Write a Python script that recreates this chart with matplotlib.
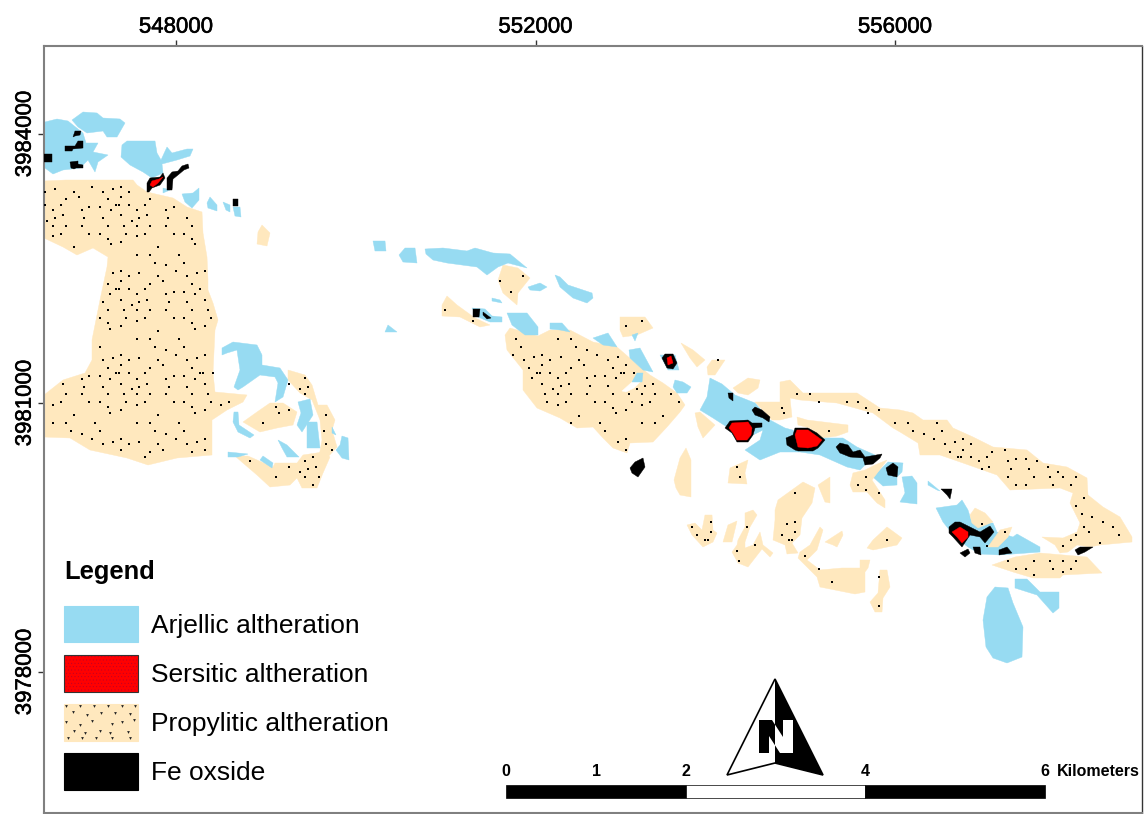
import matplotlib
matplotlib.use('Agg')
import matplotlib.pyplot as plt
import matplotlib.patheffects as pe
from matplotlib.patches import Rectangle

plt.rcParams['font.family'] = ['Liberation Sans', 'DejaVu Sans']
plt.rcParams['hatch.linewidth'] = 0.25

# Georeference of the digitised sheet: vertices below are (col, row) on the scan
M_PER_COL = 4000 / 359.5
M_PER_ROW = 3000 / 269.0

def easting(col):
    return 548000 + (col - 176) * M_PER_COL

def northing(row):
    return 3984000 - (row - 134) * M_PER_ROW

x_ticks = [548000, 552000, 556000]
y_ticks = [3978000, 3981000, 3984000]

legend_labels = ['Arjellic altheration', 'Sersitic altheration', 'Propylitic altheration', 'Fe oxside']
scale_labels = ['0', '1', '2', '4', '6']
scale_cols = [506, 596, 686, 865, 1045]

propylitic = [
    # west block
    [(44,181),(66,180),(133,180),(137,185),(147,192),(173,198),(187,207),(202,212),(203,233),(207,257),(208,280),(208,290),(213,303),(218,320),(215,330),(213,373),(215,392),(247,395),(243,402),(227,410),(212,420),(212,455),(177,458),(148,465),(127,458),(90,450),(70,438),(44,437),(44,395),(63,380),(85,373),(92,360),(92,340),(98,310),(100,300),(107,267),(108,257),(93,248),(77,255),(63,247),(44,238)],
    [(235,456),(248,456),(273,467),(275,463),(297,463),(303,455),(323,452),(330,457),(323,473),(317,488),(302,488),(297,478),(290,485),(270,487),(257,475),(243,463)],
    [(288,370),(305,375),(312,385),(318,405),(327,405),(335,420),(332,430),(337,447),(327,458),(318,462),(322,440),(320,420),(312,400),(300,393),(288,380)],
    [(270,403),(283,403),(297,412),(293,425),(277,428),(260,432),(243,422),(257,412)],
    [(262,225),(270,233),(267,246),(257,244),(258,232)],
    # middle
    [(503,265),(518,268),(530,278),(518,293),(517,305),(503,293),(498,280)],
    [(447,296),(457,305),(475,318),(490,325),(480,327),(460,317),(442,316),(442,305)],
    [(620,317),(645,317),(653,328),(637,335),(623,337),(620,330)],
    [(505,335),(510,328),(538,336),(550,330),(570,330),(593,342),(617,347),(640,367),(650,375),(663,383),(677,393),(685,405),(680,412),(667,427),(653,442),(630,443),(627,453),(613,448),(603,438),(593,427),(577,428),(560,418),(537,408),(523,390),(523,370),(507,350)],
    [(681,343),(693,350),(705,360),(697,367),(690,358)],
    [(707,367),(712,360),(725,360),(715,375),(708,375)],
    [(674,480),(680,458),(686,448),(691,460),(691,497),(680,495),(676,488)],
    [(733,388),(748,378),(760,380),(758,388),(748,395),(738,393)],
    [(695,413),(700,412),(715,425),(703,438),(698,427)],
    # long east band
    [(755,402),(780,402),(780,382),(790,380),(803,393),(857,393),(880,408),(900,410),(913,413),(923,420),(947,420),(953,428),(973,437),(993,447),(1027,450),(1043,463),(1067,467),(1087,478),(1088,495),(1103,507),(1120,517),(1132,537),(1132,542),(1100,545),(1090,547),(1077,545),(1068,552),(1060,553),(1055,545),(1042,537),(1063,538),(1077,532),(1080,523),(1070,503),(1073,493),(1060,488),(1010,490),(997,475),(963,463),(940,455),(920,455),(918,443),(900,432),(893,428),(873,413),(837,403),(800,400),(790,398),(792,417),(780,420),(772,420)],
    [(797,417),(807,420),(848,425),(848,432),(837,436),(823,438),(810,428),(798,425)],
    [(992,565),(1015,557),(1040,553),(1087,557),(1102,573),(1063,575),(1060,578),(1033,578),(1013,572)],
    # southern scatter
    [(730,468),(748,460),(745,473),(747,484),(728,483)],
    [(775,510),(778,500),(803,482),(815,488),(812,503),(802,518),(800,535),(792,543),(798,553),(787,554),(785,545),(773,540),(775,520)],
    [(818,485),(830,477),(830,503),(825,502)],
    [(687,525),(695,523),(702,530),(705,515),(712,515),(713,530),(717,533),(713,542),(703,547),(692,535)],
    [(723,542),(728,525),(737,521),(732,542)],
    [(738,540),(745,527),(745,513),(753,510),(757,515),(750,527),(745,542),(745,548),(753,545),(760,532),(763,545),(773,553),(770,557),(762,549),(748,567),(738,563),(732,552),(737,545)],
    [(800,552),(810,545),(820,527),(823,530),(817,550),(807,560),(820,570),(842,568),(860,568),(860,560),(870,560),(868,568),(865,572),(865,592),(855,594),(820,587),(817,577),(798,558)],
    [(825,542),(842,531),(843,535),(837,547),(833,545)],
    [(867,548),(873,540),(887,527),(902,538),(897,545),(873,550)],
    [(880,570),(887,570),(890,587),(883,598),(882,612),(875,612),(870,602),(878,593)],
]

# pieces that lie on top of the argillic zones
propylitic_top = [
    [(850,485),(853,473),(865,470),(875,465),(887,460),(872,480),(885,500),(885,508),(877,503),(867,492),(853,492)],
    [(970,515),(975,508),(985,513),(993,522),(978,528),(972,523)],
    [(988,547),(1000,530),(1012,527),(1008,537),(998,547)],
]

gaps = [[(622,391),(632,382),(640,382),(634,388),(626,392)]]

argillic = [
    [(45,122),(57,119),(68,121),(83,133),(86,143),(98,143),(93,152),(108,155),(98,162),(95,172),(88,160),(80,168),(63,170),(53,174),(45,168)],
    [(72,120),(83,112),(97,113),(103,118),(120,119),(125,123),(117,137),(107,137),(103,131),(87,133),(78,127)],
    [(122,145),(127,141),(155,141),(157,153),(161,160),(167,147),(172,153),(187,149),(193,149),(190,156),(177,160),(162,164),(163,173),(152,178),(143,172),(130,165),(121,157)],
    [(182,194),(193,193),(199,188),(199,200),(192,208),(185,202)],
    [(210,197),(217,205),(217,211),(208,208),(207,203)],
    [(223,202),(230,205),(230,212),(226,210)],
    [(233,207),(240,207),(241,217),(235,216)],
    [(163,188),(170,190),(163,193)],
    [(222,348),(233,342),(257,345),(262,355),(262,365),(280,368),(288,380),(283,397),(275,402),(278,383),(275,377),(260,375),(243,387),(238,390),(234,387),(240,370),(238,357),(237,350),(227,353),(222,355)],
    [(298,402),(310,399),(313,415),(302,432),(297,425),(301,413)],
    [(307,422),(317,422),(320,448),(307,448)],
    [(342,436),(348,438),(349,460),(342,458),(336,450),(340,445)],
    [(332,427),(336,435),(332,433)],
    [(234,412),(238,412),(239,425),(254,435),(250,438),(238,432),(233,422)],
    [(278,440),(287,445),(299,457),(287,457),(282,448)],
    [(228,452),(248,454),(238,457),(228,457)],
    [(263,456),(273,463),(272,468),(260,460)],
    [(373,241),(385,241),(386,251),(375,251)],
    [(399,255),(405,248),(415,248),(417,263),(403,262)],
    [(425,249),(443,248),(467,251),(475,248),(493,253),(510,254),(527,268),(508,263),(498,267),(487,275),(477,267),(447,263),(433,260),(426,254)],
    [(528,287),(540,283),(547,287),(540,291),(530,290)],
    [(555,275),(560,277),(568,285),(592,293),(593,298),(587,303),(573,298),(560,287)],
    [(492,298),(500,300),(502,303),(492,301)],
    [(472,308),(485,309),(492,316),(502,317),(502,322),(490,322),(478,317)],
    [(388,325),(397,332),(385,332)],
    [(507,313),(527,313),(538,327),(538,335),(525,335),(512,325)],
    [(550,323),(562,323),(570,332),(560,330),(550,329)],
    [(593,338),(608,333),(617,347),(603,345)],
    [(632,335),(638,333),(635,341)],
    [(629,350),(640,348),(653,372),(643,370),(630,358)],
    [(660,355),(675,355),(679,370),(668,370)],
    [(675,380),(683,382),(691,387),(687,393),(677,393),(673,387)],
    [(637,373),(643,373),(642,382),(632,382)],
    [(710,378),(722,384),(735,395),(755,403),(770,420),(785,428),(800,432),(823,438),(843,438),(857,447),(875,455),(860,470),(847,467),(820,455),(800,452),(780,452),(760,460),(745,450),(760,440),(763,430),(753,435),(740,440),(733,435),(727,427),(713,418),(700,410),(707,397)],
    [(873,477),(888,462),(903,463),(902,472),(897,477),(897,485),(883,486)],
    [(902,477),(912,476),(917,483),(917,504),(900,502),(905,493)],
    [(928,481),(940,491),(937,490),(928,485)],
    [(936,508),(957,505),(962,500),(968,510),(972,523),(993,523),(997,532),(1013,537),(1017,534),(1040,547),(1040,552),(1000,555),(980,554),(968,547),(955,537),(943,522)],
    [(987,597),(995,587),(1008,588),(1013,603),(1023,627),(1022,657),(1007,663),(993,658),(986,647),(983,620)],
    [(1015,579),(1027,579),(1040,592),(1059,592),(1059,608),(1053,613),(1037,595),(1015,588)],
]

fe_oxide = [
    [(73,137),(75,131),(81,131),(80,135),(75,136)],
    [(65,146),(75,146),(78,141),(83,141),(83,148),(73,149),(72,151),(65,151)],
    [(44,154),(52,154),(52,162),(44,162)],
    [(70,162),(78,161),(78,164),(83,165),(83,168),(76,168),(74,169),(71,168)],
    [(147,192),(147,183),(150,178),(160,177),(163,173),(165,178),(160,185),(152,188),(149,192)],
    [(167,190),(167,178),(172,172),(178,171),(182,166),(188,164),(189,168),(184,170),(178,175),(173,179),(172,190)],
    [(233,199),(238,199),(238,206),(233,206)],
    [(473,309),(480,309),(479,317),(473,317)],
    [(483,312),(491,318),(487,319),(483,315)],
    [(662,358),(665,354),(673,354),(677,363),(673,369),(667,368)],
    [(630,468),(635,462),(643,458),(645,467),(638,477),(632,473)],
    [(752,410),(755,407),(762,410),(770,417),(769,422),(763,418),(755,415)],
    [(728,393),(733,393),(733,401),(729,398)],
    [(725,428),(730,421),(748,420),(752,423),(762,423),(762,427),(755,428),(753,435),(748,442),(737,442),(732,433)],
    [(786,438),(793,435),(795,428),(808,428),(817,433),(825,440),(818,448),(813,451),(798,451),(795,450),(787,445)],
    [(836,447),(840,443),(848,445),(853,452),(860,450),(865,457),(882,454),(880,458),(873,464),(865,465),(863,458),(850,457),(840,453)],
    [(886,468),(893,463),(898,467),(897,477),(888,475)],
    [(949,527),(955,522),(960,522),(972,528),(980,532),(990,526),(994,532),(985,543),(980,537),(970,535),(962,547),(953,537),(949,533)],
    [(960,553),(968,549),(970,553),(965,557)],
    [(973,547),(980,547),(981,555),(975,553)],
    [(999,550),(1007,547),(1012,553),(999,555)],
    [(1075,550),(1080,547),(1093,547),(1085,552),(1078,555)],
    [(941,489),(952,489),(950,499),(947,495)],
]

sericitic = [
    [(150,185),(152,181),(159,179),(163,177),(158,183),(153,187)],
    [(667,358),(671,356),(673,363),(668,365)],
    [(729,428),(732,423),(748,422),(752,428),(751,435),(747,440),(737,440),(733,433)],
    [(795,435),(797,430),(808,430),(822,440),(817,446),(808,448),(798,447)],
    [(952,532),(960,527),(968,532),(968,537),(962,543),(957,537)],
]

dots = [
    (92,187),(55,189),(45,192),(74,192),(103,192),(113,189),(121,187),(129,192),(66,199),(79,197),(108,199),(121,197),(150,199),
    (45,205),(61,205),(116,205),(119,205),(129,205),(145,205),(89,207),(100,207),(53,210),(82,210),(111,210),(137,210),(166,210),(174,207),
    (63,215),(121,215),(147,215),(55,218),(84,218),(103,218),(139,218),(168,218),(187,218),(47,221),(132,221),
    (53,226),(66,226),(82,226),(108,226),(124,226),(137,226),(150,226),(166,226),(192,226),
    (61,234),(89,234),(100,234),(126,234),(145,234),(174,234),(184,234),(53,236),(137,236),(108,239),(192,239),(121,242),(111,244),(195,244),
    (74,247),(158,247),(137,255),(150,255),(179,255),(155,263),(184,263),(166,265),(176,271),(121,271),(113,273),(139,273),(197,273),(205,271),
    (129,276),(158,276),(187,276),(121,281),(163,281),(108,284),(150,284),(192,284),(116,289),(119,289),(129,289),(145,289),(200,289),
    (174,292),(184,292),(137,294),(166,294),(195,294),(110,294),(121,300),(147,300),(205,300),(103,302),(139,302),(169,302),(187,302),(132,305),
    (108,310),(124,310),(137,310),(150,310),(166,310),(192,310),(208,310),(100,318),(126,318),(145,318),(174,318),(184,318),(211,318),
    (137,321),(108,323),(192,323),(121,326),(205,326),(110,329),(195,329),(158,331),(137,339),(150,339),(179,339),(100,347),(155,347),(184,347),
    (166,350),(121,355),(176,355),(205,355),(113,358),(139,358),(197,358),(103,360),(129,360),(158,360),(187,360),(121,365),(163,365),
    (108,368),(150,368),(192,368),(116,373),(119,373),(129,373),(145,373),(200,373),(203,373),(213,373),(89,376),(100,376),(174,376),(184,376),
    (82,379),(110,379),(137,379),(166,379),(195,379),(63,384),(121,384),(147,384),(205,384),(84,387),(103,387),(139,387),(169,387),(187,387),(132,389),
    (66,394),(82,394),(108,394),(124,394),(137,394),(150,394),(166,394),(192,394),(208,394),
    (61,402),(53,405),(89,402),(100,402),(126,402),(145,402),(174,402),(184,402),(211,402),(229,402),(221,405),(137,405),(108,407),(192,407),
    (121,410),(205,410),(110,413),(195,413),(74,415),(158,415),(53,423),(66,423),(95,423),(137,423),(150,423),(179,423),(71,431),(100,431),(155,431),(184,431),
    (82,434),(166,434),(92,439),(121,439),(176,439),(205,439),(113,442),(139,442),(197,442),(103,444),(129,444),(158,444),(187,444),(121,450),(163,450),(205,450),
    (150,452),(192,452),(145,457),
    (305,378),(289,384),(308,387),(300,389),(305,394),(276,407),(289,410),(279,413),(326,415),(263,423),(324,431),(326,444),(332,450),(313,457),(250,461),(305,461),
    (289,467),(316,467),(308,469),(300,472),(276,477),(305,477),(319,477),(313,485),
    (523,276),(500,281),(511,292),(445,310),(473,321),(642,321),(626,326),
    (516,339),(558,339),(571,339),(576,347),(521,347),(587,350),(513,355),(542,355),(597,355),(534,357),(561,357),(618,357),(524,360),(550,360),(579,360),(608,360),
    (542,365),(584,365),(626,365),(529,368),(571,368),(613,368),(537,373),(540,373),(550,373),(566,373),(621,373),(624,373),(634,373),(532,378),(558,378),(587,378),
    (595,376),(605,376),(616,378),(542,384),(569,384),(653,384),(561,386),(590,386),(608,386),(645,386),(553,389),(637,389),
    (545,394),(558,394),(571,394),(587,394),(613,394),(629,394),(642,394),(655,394),(671,394),(547,402),(566,402),(595,402),(605,402),(632,402),(650,402),(679,402),
    (558,405),(642,405),(613,408),(626,410),(616,413),(579,416),(663,416),(571,423),(600,423),(642,423),(655,423),(605,431),(626,439),(618,442),(626,450),
    (908,423),(937,423),(913,431),(942,431),(924,434),(934,439),(955,442),(963,439),(945,444),(971,444),(963,450),(1005,450),(950,452),(992,452),(958,457),(961,457),
    (971,457),(987,457),(1016,459),(1026,459),(979,461),(1008,461),(1037,461),(989,467),(1048,467),(982,469),(1011,469),(1029,469),(1058,472),
    (1008,477),(1034,477),(1050,477),(1063,477),(1076,477),(1016,485),(1026,485),(1053,485),(1071,485),(1084,498),(1076,506),(1082,514),(1092,517),(1103,522),
    (1084,527),(1113,527),(982,524),(1089,532),(1005,532),(1076,535),(1119,535),(1071,540),(1100,543),(1063,546),(987,546),
    (1008,561),(1034,561),(1050,561),(1063,561),(1076,561),(1016,569),(1026,569),(1053,569),(1071,569),(1063,572),(1034,575),
    (718,360),(797,394),(810,394),(819,402),(847,402),(858,402),(782,408),(866,408),(879,410),(784,413),(868,413),(895,423),(913,431),(829,431),
    (737,467),(740,477),(866,477),(858,485),(866,490),(879,493),(795,493),
    (692,527),(711,522),(711,532),(697,535),(705,540),(708,540),(747,527),(737,551),(755,545),(739,561),(787,524),(795,522),(795,532),(782,535),(789,540),(792,540),
    (805,556),(819,569),(832,582),(887,540),(879,577),(879,606),
]

swatch_marks = [
    (66,706),(80,706),(94,706),(108,706),(122,706),(135,706),(73,712),(87,715),(101,713),(115,713),(130,714),(66,722),(80,725),(92,721),(112,724),(122,722),(134,720),
    (74,731),(85,733),(100,731),(110,733),(128,732),(68,738),(82,738),(96,738),(112,738),(130,738),
]

swatch_rows = [(606,642),(655,692),(704,741),(753,790)]

BLUE = '#97DBF2'
TAN = '#FFE8BE'
RED = '#FF0000'
GRID = '#808080'

fig = plt.figure(figsize=(11.44, 8.14), dpi=100)
ax = fig.add_axes([44/1144, 1 - 813/814, (1142 - 44)/1144, (813 - 46)/814])
ax.set_xlim(easting(44), easting(1142))
ax.set_ylim(northing(813), northing(46))


def fill_all(polys, color, z):
    for p in polys:
        xs = [easting(c) for c, r in p]
        ys = [northing(r) for c, r in p]
        ax.fill(xs, ys, color=color, lw=0.3, zorder=z)


fill_all(propylitic, TAN, 1)
fill_all(gaps, 'white', 1.5)
fill_all(argillic, BLUE, 2)
fill_all(propylitic_top, TAN, 3)
ax.scatter([easting(c) for c, r in dots], [northing(r) for c, r in dots], marker='s', s=3.2, color='black', linewidths=0, zorder=4)
fill_all(fe_oxide, 'black', 5)
fill_all(sericitic, RED, 6)

# axis furniture
ax.xaxis.tick_top()
ax.set_xticks(x_ticks)
ax.set_xticklabels([str(v) for v in x_ticks], fontsize=16)
ax.set_yticks(y_ticks)
ax.set_yticklabels([str(v) for v in y_ticks], fontsize=16, rotation=90, va='center')
ax.tick_params(length=4, width=1, color='#333333', pad=2)
for lab in ax.get_xticklabels() + ax.get_yticklabels():
    lab.set_path_effects([pe.withStroke(linewidth=0.4, foreground='black')])
for s in ax.spines.values():
    s.set_color(GRID)
    s.set_linewidth(1.5)
ax.spines['right'].set_color('#333333')
ax.spines['right'].set_linewidth(1)

# legend
ax.text(easting(64), northing(572), 'Legend', fontsize=18.4, fontweight='bold', va='center', zorder=8)
swatch_colors = [BLUE, RED, TAN, 'black']
for (r0, r1), col, lab in zip(swatch_rows, swatch_colors, legend_labels):
    x0, y0 = easting(64), northing(r1)
    w, h = easting(138) - x0, northing(r0) - y0
    ec = '#333333' if col == RED else col
    ax.add_patch(Rectangle((x0, y0), w, h, facecolor=col, edgecolor=ec, lw=0.8, zorder=7))
    ax.text(easting(151), northing((r0 + r1) / 2 + 1.5), lab, fontsize=19, va='center', zorder=8)
ax.add_patch(Rectangle((easting(65), northing(691)), easting(137) - easting(65), northing(656) - northing(691),
                       facecolor='none', edgecolor='#b00030', hatch='.....', lw=0, zorder=7.5))
ax.scatter([easting(c) for c, r in swatch_marks], [northing(r) for c, r in swatch_marks], marker='v', s=4, color='#222222', linewidths=0, zorder=8)

# scale bar
bar_y0, bar_h = northing(798), northing(785) - northing(798)
ax.add_patch(Rectangle((easting(506), bar_y0), easting(686) - easting(506), bar_h, facecolor='black', edgecolor='black', lw=0.5, zorder=7))
ax.add_patch(Rectangle((easting(686), bar_y0), easting(865) - easting(686), bar_h, facecolor='white', edgecolor='black', lw=0.5, zorder=7))
ax.add_patch(Rectangle((easting(865), bar_y0), easting(1045) - easting(865), bar_h, facecolor='black', edgecolor='black', lw=0.5, zorder=7))
for c, lab in zip(scale_cols, scale_labels):
    ax.text(easting(c), northing(771), lab, fontsize=11.5, fontweight='bold', ha='center', va='center', zorder=8)
ax.text(easting(1057), northing(771), 'Kilometers', fontsize=11.5, fontweight='bold', ha='left', va='center', zorder=8)

# north arrow
arrow_outline = [(775,679),(727,775),(775,763),(823,775)]
arrow_dark = [(775,679),(823,775),(775,763)]
n_letter = [(759,720),(772,720),(783,737),(783,720),(793,720),(793,753),(780,753),(769,736),(769,753),(759,753)]
ax.fill([easting(c) for c, r in arrow_outline], [northing(r) for c, r in arrow_outline], facecolor='white', edgecolor='black', lw=1.2, zorder=7)
ax.fill([easting(c) for c, r in arrow_dark], [northing(r) for c, r in arrow_dark], color='black', lw=0, zorder=7.2)
left_half = Rectangle((easting(750), northing(760)), easting(775) - easting(750), northing(715) - northing(760), transform=ax.transData)
right_half = Rectangle((easting(775), northing(760)), easting(800) - easting(775), northing(715) - northing(760), transform=ax.transData)
nx = [easting(c) for c, r in n_letter]
ny = [northing(r) for c, r in n_letter]
ax.fill(nx, ny, color='black', lw=0, zorder=7.5)[0].set_clip_path(left_half)
ax.fill(nx, ny, color='white', lw=0, zorder=7.5)[0].set_clip_path(right_half)

fig.savefig('out.png', dpi=100)
